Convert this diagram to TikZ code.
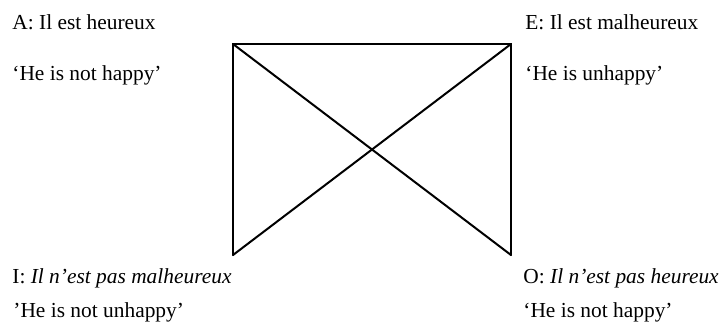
\documentclass[tikz,border=0pt]{standalone}
\usepackage{fontspec}
\setmainfont{Liberation Serif}
\usepackage{tikz}

\begin{document}
\begin{tikzpicture}[
    x=0.5pt, y=-0.5pt,
    label/.style={anchor=base west, inner sep=0pt, font=\fontsize{10.7pt}{12pt}\selectfont},
    edge/.style={line width=1pt, line cap=round, line join=miter}
]
\useasboundingbox (0,0) rectangle (727,329);

% corners of the square
\coordinate (cA) at (233,44);
\coordinate (cE) at (511,44);
\coordinate (cI) at (233,255);
\coordinate (cO) at (511,255);

% statements and glosses
\node[label] (A)  at (12,29)   {A: Il est heureux};
\node[label] (Ag) at (12,80)   {‘He is not happy’};
\node[label] (E)  at (525,29)  {E: Il est malheureux};
\node[label] (Eg) at (525,80)  {‘He is unhappy’};
\node[label] (I)  at (12,283)  {I: \textit{Il n’est pas malheureux}};
\node[label] (Ig) at (13,317)  {’He is not unhappy’};
\node[label] (O)  at (523,283) {O: \textit{Il n’est pas heureux}};
\node[label] (Og) at (523,317) {‘He is not happy’};

\draw[edge] (cI) -- (cA) -- (cE) -- (cO);
\draw[edge] (cA) -- (cO);
\draw[edge] (cE) -- (cI);
\end{tikzpicture}
\end{document}
